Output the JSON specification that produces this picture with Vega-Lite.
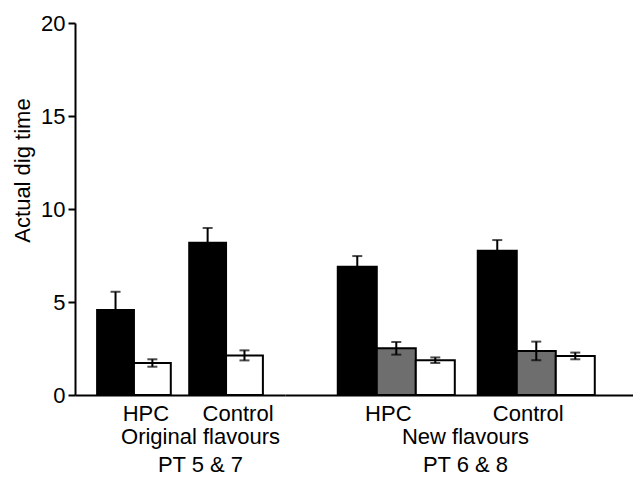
{
  "$schema": "https://vega.github.io/schema/vega-lite/v6.json",
  "padding": {"left": 11, "top": 12, "right": 0, "bottom": 0},
  "background": "white",
  "config": {
    "font": "Liberation Sans",
    "view": {"stroke": null},
    "concat": {"spacing": 0},
    "axis": {"labelFontSize": 22, "labelColor": "black", "titleFontSize": 22, "titleFontWeight": "normal", "titleColor": "black", "domainColor": "black", "domainWidth": 2, "tickColor": "black", "tickWidth": 2, "grid": false}
  },
  "data": {"values": [
    {"flavour": "Original", "condition": "HPC", "series": "A", "mean": 4.57, "low": 3.59, "high": 5.55},
    {"flavour": "Original", "condition": "HPC", "series": "C", "mean": 1.72, "low": 1.52, "high": 1.92},
    {"flavour": "Original", "condition": "Control", "series": "A", "mean": 8.19, "low": 7.4, "high": 8.98},
    {"flavour": "Original", "condition": "Control", "series": "C", "mean": 2.13, "low": 1.86, "high": 2.4},
    {"flavour": "New", "condition": "HPC", "series": "A", "mean": 6.9, "low": 6.33, "high": 7.47},
    {"flavour": "New", "condition": "HPC", "series": "B", "mean": 2.51, "low": 2.17, "high": 2.85},
    {"flavour": "New", "condition": "HPC", "series": "C", "mean": 1.87, "low": 1.72, "high": 2.02},
    {"flavour": "New", "condition": "Control", "series": "A", "mean": 7.76, "low": 7.19, "high": 8.33},
    {"flavour": "New", "condition": "Control", "series": "B", "mean": 2.37, "low": 1.87, "high": 2.87},
    {"flavour": "New", "condition": "Control", "series": "C", "mean": 2.1, "low": 1.92, "high": 2.28}
  ]},
  "resolve": {"scale": {"x": "independent", "xOffset": "independent", "y": "shared"}},
  "hconcat": [
    {
      "width": 210,
      "height": 372,
      "transform": [{"filter": "datum.flavour === 'Original'"}],
      "encoding": {
        "x": {"field": "condition", "type": "nominal", "sort": ["HPC", "Control"],
          "scale": {"paddingInner": 0.2, "paddingOuter": 0.24},
          "axis": {"labelAngle": 0, "ticks": false, "tickSize": 0, "labelPadding": 8, "labelOffset": 12,
            "title": ["Original flavours", "PT 5 & 7"], "titleLineHeight": 28, "titleX": 125, "titleY": 31, "titleBaseline": "top", "titleAlign": "center"}},
        "xOffset": {"field": "series", "type": "nominal", "scale": {"domain": ["A", "C"], "paddingInner": 0}}
      },
      "layer": [
        {
          "mark": {"type": "bar", "stroke": "black", "strokeWidth": 2},
          "encoding": {
            "y": {"field": "mean", "type": "quantitative", "scale": {"domain": [0, 20]},
              "axis": {"values": [0, 5, 10, 15, 20], "tickSize": 7, "labelPadding": 3, "title": "Actual dig time", "titleX": -53, "titleY": 147, "titleAngle": -90, "titleAlign": "center", "titleBaseline": "middle"}},
            "fill": {"field": "series", "type": "nominal", "scale": {"domain": ["A", "B", "C"], "range": ["#000000", "#6e6e6e", "#ffffff"]}, "legend": null}
          }
        },
        {
          "mark": {"type": "rule", "color": "black", "strokeWidth": 2},
          "encoding": {"y": {"field": "low", "type": "quantitative"}, "y2": {"field": "high"}}
        },
        {
          "mark": {"type": "tick", "color": "black", "thickness": 2, "size": 10, "orient": "horizontal"},
          "encoding": {"y": {"field": "high", "type": "quantitative"}}
        },
        {
          "mark": {"type": "tick", "color": "black", "thickness": 2, "size": 10, "orient": "horizontal"},
          "encoding": {"y": {"field": "low", "type": "quantitative"}}
        }
      ]
    },
    {
      "width": 348,
      "height": 372,
      "transform": [{"filter": "datum.flavour === 'New'"}],
      "encoding": {
        "x": {"field": "condition", "type": "nominal", "sort": ["HPC", "Control"],
          "scale": {"paddingInner": 0.164, "paddingOuter": 0.325, "align": 0.58},
          "axis": {"labelAngle": 0, "ticks": false, "tickSize": 0, "labelPadding": 8, "labelOffset": -8,
            "title": ["New flavours", "PT 6 & 8"], "titleLineHeight": 28, "titleX": 180, "titleY": 31, "titleBaseline": "top", "titleAlign": "center"}},
        "xOffset": {"field": "series", "type": "nominal", "scale": {"domain": ["A", "B", "C"], "paddingInner": 0}}
      },
      "layer": [
        {
          "mark": {"type": "bar", "stroke": "black", "strokeWidth": 2},
          "encoding": {
            "y": {"field": "mean", "type": "quantitative", "scale": {"domain": [0, 20]}, "axis": null},
            "fill": {"field": "series", "type": "nominal", "scale": {"domain": ["A", "B", "C"], "range": ["#000000", "#6e6e6e", "#ffffff"]}, "legend": null}
          }
        },
        {
          "mark": {"type": "rule", "color": "black", "strokeWidth": 2},
          "encoding": {"y": {"field": "low", "type": "quantitative", "axis": null}, "y2": {"field": "high"}}
        },
        {
          "mark": {"type": "tick", "color": "black", "thickness": 2, "size": 10, "orient": "horizontal"},
          "encoding": {"y": {"field": "high", "type": "quantitative", "axis": null}}
        },
        {
          "mark": {"type": "tick", "color": "black", "thickness": 2, "size": 10, "orient": "horizontal"},
          "encoding": {"y": {"field": "low", "type": "quantitative", "axis": null}}
        }
      ]
    }
  ]
}
